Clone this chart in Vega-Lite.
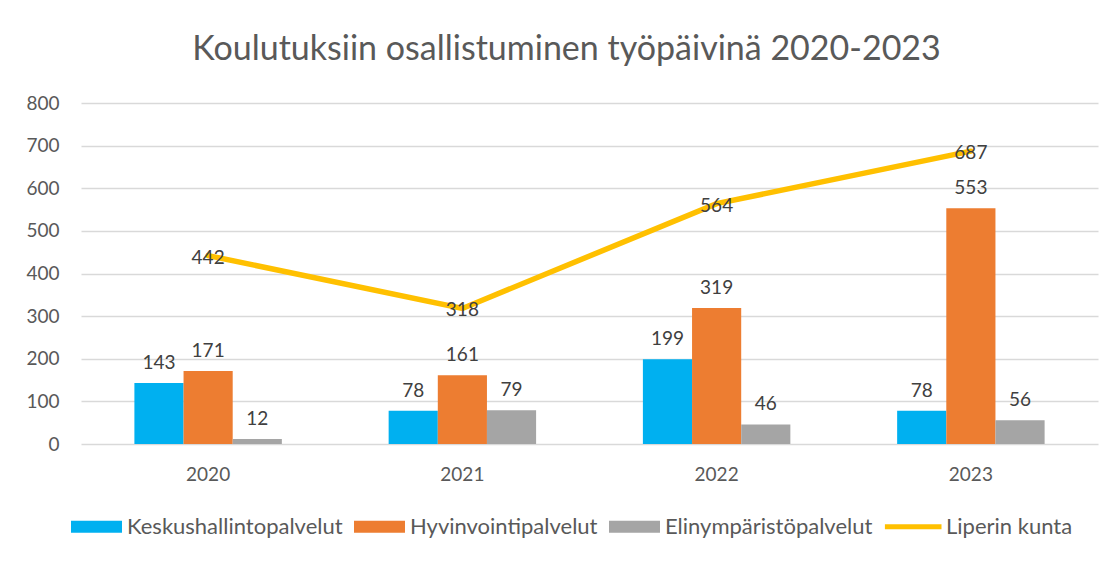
{
  "$schema": "https://vega.github.io/schema/vega-lite/v6.json",
  "autosize": "none",
  "width": 1017,
  "height": 341,
  "padding": {"left": 81, "top": 103, "right": 21, "bottom": 119},
  "background": "white",
  "title": {
    "text": "Koulutuksiin osallistuminen työpäivinä 2020-2023",
    "font": "Lato",
    "fontSize": 34,
    "fontWeight": "normal",
    "color": "#595959",
    "anchor": "middle",
    "dx": -23,
    "offset": 27
  },
  "config": {
    "font": "Lato",
    "view": {"stroke": null}
  },
  "data": {
    "values": [
      {"year": "2020", "series": "Keskushallintopalvelut", "value": 143},
      {"year": "2020", "series": "Hyvinvointipalvelut", "value": 171},
      {"year": "2020", "series": "Elinympäristöpalvelut", "value": 12},
      {"year": "2020", "series": "Liperin kunta", "value": 442},
      {"year": "2021", "series": "Keskushallintopalvelut", "value": 78},
      {"year": "2021", "series": "Hyvinvointipalvelut", "value": 161},
      {"year": "2021", "series": "Elinympäristöpalvelut", "value": 79},
      {"year": "2021", "series": "Liperin kunta", "value": 318},
      {"year": "2022", "series": "Keskushallintopalvelut", "value": 199},
      {"year": "2022", "series": "Hyvinvointipalvelut", "value": 319},
      {"year": "2022", "series": "Elinympäristöpalvelut", "value": 46},
      {"year": "2022", "series": "Liperin kunta", "value": 564},
      {"year": "2023", "series": "Keskushallintopalvelut", "value": 78},
      {"year": "2023", "series": "Hyvinvointipalvelut", "value": 553},
      {"year": "2023", "series": "Elinympäristöpalvelut", "value": 56},
      {"year": "2023", "series": "Liperin kunta", "value": 687}
    ]
  },
  "encoding": {
    "x": {
      "field": "year",
      "type": "nominal",
      "scale": {"paddingInner": 0.42, "paddingOuter": 0.21},
      "axis": {
        "title": null,
        "labelAngle": 0,
        "labelFont": "Lato",
        "labelFontSize": 19,
        "labelColor": "#595959",
        "labelPadding": 21,
        "domain": false,
        "ticks": false
      }
    },
    "y": {
      "field": "value",
      "type": "quantitative",
      "scale": {"domain": [0, 800]},
      "axis": {
        "title": null,
        "values": [0, 100, 200, 300, 400, 500, 600, 700, 800],
        "labelFont": "Lato",
        "labelFontSize": 19,
        "labelColor": "#595959",
        "labelPadding": 22,
        "domain": false,
        "ticks": false,
        "gridColor": "#d9d9d9",
        "gridWidth": 1.5
      }
    }
  },
  "layer": [
    {
      "transform": [{"filter": "datum.series !== 'Liperin kunta'"}],
      "mark": {"type": "bar"},
      "encoding": {
        "xOffset": {
          "field": "series",
          "type": "nominal",
          "sort": ["Keskushallintopalvelut", "Hyvinvointipalvelut", "Elinympäristöpalvelut"],
          "scale": {"paddingInner": 0, "paddingOuter": 0}
        },
        "color": {
          "field": "series",
          "type": "nominal",
          "scale": {
            "domain": ["Keskushallintopalvelut", "Hyvinvointipalvelut", "Elinympäristöpalvelut", "Liperin kunta"],
            "range": ["#00B0F0", "#ED7D31", "#A5A5A5", "#FFC000"]
          },
          "legend": {
            "title": null,
            "orient": "none",
            "direction": "horizontal",
            "legendX": -10,
            "legendY": 398,
            "labelFont": "Lato",
            "labelFontSize": 22,
            "labelLimit": 500,
            "labelColor": "#595959",
            "labelOffset": 5,
            "columnPadding": 11,
            "symbolType": "M-1,-0.24L1,-0.24L1,0.24L-1,0.24Z",
            "symbolSize": 2600,
            "symbolStrokeWidth": 0,
            "encode": {
              "symbols": {
                "update": {
                  "shape": {"signal": "datum.value === 'Liperin kunta' ? 'M-1.2,-0.1L1.02,-0.1L1.02,0.1L-1.2,0.1Z' : 'M-1,-0.24L1,-0.24L1,0.24L-1,0.24Z'"},
                  "fill": {"scale": "color", "field": "value"},
                  "fillOpacity": {"value": 1},
                  "strokeWidth": {"value": 0},
                  "opacity": {"value": 1}
                }
              }
            }
          }
        }
      }
    },
    {
      "transform": [{"filter": "datum.series !== 'Liperin kunta'"}],
      "mark": {"type": "text", "baseline": "bottom", "dy": -10, "font": "Lato", "fontSize": 19, "color": "#404040"},
      "encoding": {
        "xOffset": {
          "field": "series",
          "type": "nominal",
          "sort": ["Keskushallintopalvelut", "Hyvinvointipalvelut", "Elinympäristöpalvelut"],
          "scale": {"paddingInner": 0, "paddingOuter": 0}
        },
        "text": {"field": "value", "type": "quantitative"}
      }
    },
    {
      "transform": [{"filter": "datum.series === 'Liperin kunta'"}],
      "mark": {"type": "line", "strokeWidth": 5.5, "strokeCap": "round"},
      "encoding": {
        "color": {"field": "series", "type": "nominal"}
      }
    },
    {
      "transform": [{"filter": "datum.series === 'Liperin kunta'"}],
      "mark": {"type": "text", "baseline": "middle", "dy": 2, "font": "Lato", "fontSize": 19, "color": "#404040"},
      "encoding": {
        "text": {"field": "value", "type": "quantitative"}
      }
    }
  ]
}
